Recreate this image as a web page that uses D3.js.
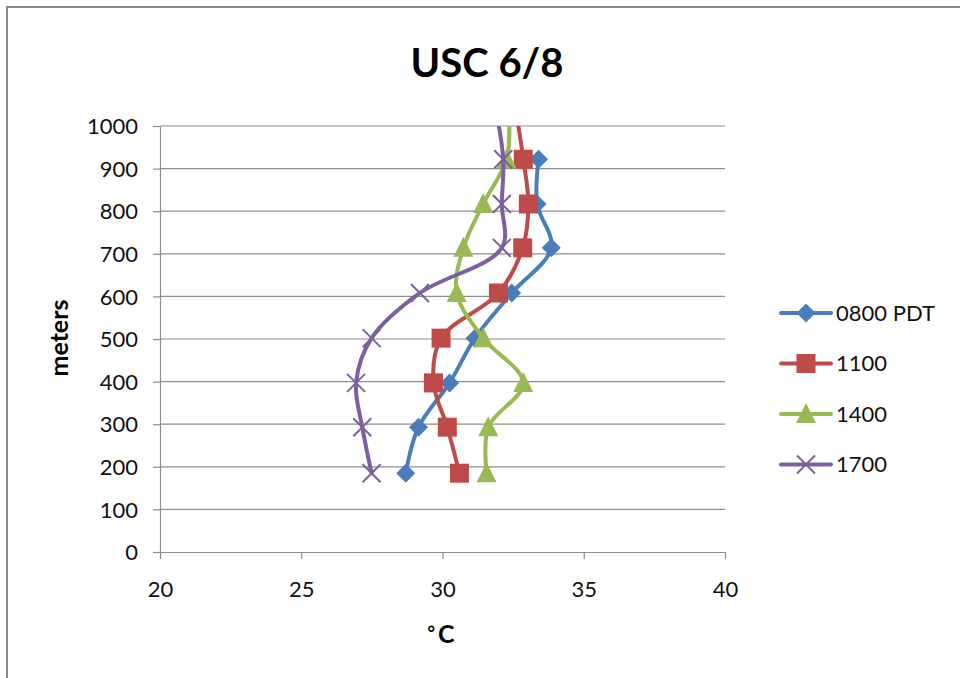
<!DOCTYPE html>
<html>
<head>
<meta charset="utf-8">
<script src="https://cdn.jsdelivr.net/npm/d3@7"></script>
<style>
  html, body { margin: 0; padding: 0; background: #fff; }
  svg { display: block; font-family: Lato, "Open Sans", "DejaVu Sans", sans-serif; }
</style>
</head>
<body>
<svg id="chart" width="960" height="678"></svg>
<script>
// Sounding heights (m) and temperatures (°C) for each launch time
const heights = [185, 293, 397, 502, 608, 714, 817, 922, 1027];
const t0800 = [28.7, 29.15, 30.25, 31.15, 32.45, 33.85, 33.35, 33.4];
const t1100 = [30.6, 30.17, 29.68, 29.95, 31.98, 32.84, 33.04, 32.86, 32.62];
const t1400 = [31.56, 31.62, 32.86, 31.44, 30.5, 30.74, 31.44, 32.27, 32.35];
const t1700 = [27.49, 27.16, 26.94, 27.49, 29.2, 32.1, 32.1, 32.15, 31.92];

const seriesNames = ["0800 PDT", "1100", "1400", "1700"];
const seriesColors = ["#4A7EBB", "#BE4B48", "#98B954", "#7D60A0"];
const seriesMarkers = ["diamond", "square", "triangle", "cross"];
const seriesTemps = [t0800, t1100, t1400, t1700];

const xTicks = [20, 25, 30, 35, 40];
const yTicks = [0, 100, 200, 300, 400, 500, 600, 700, 800, 900, 1000];

const svg = d3.select("#chart");
const W = 960, H = 678;

// outer frame
svg.append("rect").attr("x", 7).attr("y", 7).attr("width", W).attr("height", H)
  .attr("fill", "#fff").attr("stroke", "#8a8a8a").attr("stroke-width", 2);

const plot = { left: 160, right: 725, top: 126, bottom: 552 };
const x = d3.scaleLinear().domain([20, 40]).range([plot.left, plot.right]);
const y = d3.scaleLinear().domain([0, 1000]).range([plot.bottom, plot.top]);

// title
svg.append("text").attr("x", 487).attr("y", 77).attr("text-anchor", "middle")
  .attr("font-size", 40).attr("font-weight", "bold").attr("fill", "#000")
  .text("USC 6/8");

// horizontal gridlines
svg.append("g").selectAll("line").data(yTicks.filter(d => d > 0)).join("line")
  .attr("x1", plot.left).attr("x2", plot.right)
  .attr("y1", d => y(d)).attr("y2", d => y(d))
  .attr("stroke", "#8c8c8c").attr("stroke-width", 1.2);

// y axis
const yAxis = svg.append("g").attr("transform", `translate(${plot.left},0)`)
  .call(d3.axisLeft(y).tickValues(yTicks).tickFormat(d3.format("d"))
    .tickSize(7).tickPadding(15).tickSizeOuter(0));
yAxis.select(".domain").attr("stroke", "#8c8c8c").attr("stroke-width", 1.2);
yAxis.selectAll(".tick line").attr("stroke", "#8c8c8c").attr("stroke-width", 1.2);
yAxis.selectAll(".tick text").attr("font-size", 22).attr("fill", "#111")
  .attr("font-family", "Lato, 'Open Sans', sans-serif").attr("dy", "0.35em");

// x axis
const xAxis = svg.append("g").attr("transform", `translate(0,${plot.bottom})`)
  .call(d3.axisBottom(x).tickValues(xTicks).tickSize(7).tickPadding(22).tickSizeOuter(0));
xAxis.select(".domain").attr("stroke", "#8c8c8c").attr("stroke-width", 1.2);
xAxis.selectAll(".tick line").attr("stroke", "#8c8c8c").attr("stroke-width", 1.2);
xAxis.selectAll(".tick text").attr("font-size", 22).attr("fill", "#111")
  .attr("font-family", "Lato, 'Open Sans', sans-serif");

// axis titles
svg.append("text").attr("transform", "translate(68,338) rotate(-90)")
  .attr("text-anchor", "middle").attr("font-size", 25).attr("font-weight", "bold")
  .attr("fill", "#000").text("meters");
const xTitle = svg.append("text").attr("x", 441).attr("y", 643).attr("text-anchor", "middle")
  .attr("font-weight", "bold").attr("fill", "#000");
xTitle.append("tspan").attr("font-size", 18).attr("dy", -3).text("°");
xTitle.append("tspan").attr("font-size", 25).attr("dx", 3).attr("dy", 3).text("C");

// marker shapes
function drawMarker(g, type, color, cx, cy) {
  if (type === "diamond") {
    g.append("path").attr("d", `M${cx},${cy - 9.5}L${cx + 9.5},${cy}L${cx},${cy + 9.5}L${cx - 9.5},${cy}Z`)
      .attr("fill", color);
  } else if (type === "square") {
    g.append("rect").attr("x", cx - 9.5).attr("y", cy - 9.5).attr("width", 19).attr("height", 19)
      .attr("fill", color);
  } else if (type === "triangle") {
    g.append("path").attr("d", `M${cx},${cy - 11}L${cx + 10},${cy + 9}L${cx - 10},${cy + 9}Z`)
      .attr("fill", color);
  } else {
    g.append("path").attr("d", `M${cx - 9},${cy - 9}L${cx + 9},${cy + 9}M${cx - 9},${cy + 9}L${cx + 9},${cy - 9}`)
      .attr("stroke", color).attr("stroke-width", 2).attr("fill", "none");
  }
}

// clip to plot area
svg.append("clipPath").attr("id", "plotClip").append("rect")
  .attr("x", plot.left).attr("y", plot.top)
  .attr("width", plot.right - plot.left).attr("height", plot.bottom - plot.top);

const line = d3.line().x(d => x(d[0])).y(d => y(d[1])).curve(d3.curveCatmullRom.alpha(0.5));

const series = seriesTemps.map((temps, i) => ({
  name: seriesNames[i], color: seriesColors[i], marker: seriesMarkers[i],
  points: temps.map((t, j) => [t, heights[j]])
}));

const plotG = svg.append("g").attr("clip-path", "url(#plotClip)");
series.forEach(s => {
  const g = plotG.append("g");
  g.append("path").datum(s.points).attr("d", line)
    .attr("fill", "none").attr("stroke", s.color).attr("stroke-width", 4)
    .attr("stroke-linejoin", "round").attr("stroke-linecap", "round");
  s.points.filter(p => p[1] <= 1000).forEach(p => drawMarker(g, s.marker, s.color, x(p[0]), y(p[1])));
});

// legend
const legend = svg.append("g");
series.forEach((s, i) => {
  const ly = 313 + i * 50.5;
  legend.append("line").attr("x1", 781).attr("x2", 831).attr("y1", ly).attr("y2", ly)
    .attr("stroke", s.color).attr("stroke-width", 4).attr("stroke-linecap", "round");
  drawMarker(legend, s.marker, s.color, 806, ly);
  legend.append("text").attr("x", 836).attr("y", ly).attr("dy", "0.35em")
    .attr("font-size", 22).attr("fill", "#111").text(s.name);
});
</script>
</body>
</html>
